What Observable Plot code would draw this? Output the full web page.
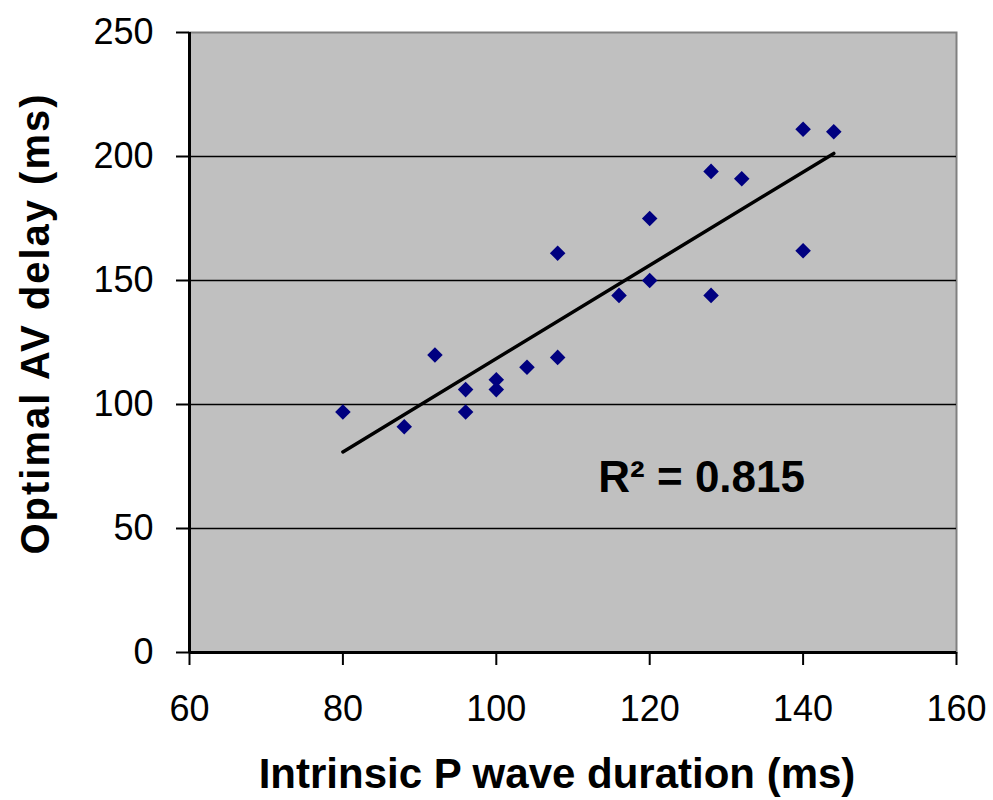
<!DOCTYPE html>
<html>
<head>
<meta charset="utf-8">
<script src="https://cdn.jsdelivr.net/npm/d3@7"></script>
<script src="https://cdn.jsdelivr.net/npm/@observablehq/plot@0.6"></script>
<style>
  html, body { margin: 0; padding: 0; background: #ffffff; }
  #chart { width: 993px; height: 800px; }
  .ytitle text { letter-spacing: 2px; }
</style>
</head>
<body>
<div id="chart"></div>
<script>
// P wave duration (ms) and optimal AV delay (ms)
const pWave = [80, 88, 92, 96, 96, 100, 100, 104, 108, 108, 116, 120, 120, 128, 128, 132, 140, 140, 144];
const avDelay = [97, 91, 120, 106, 97, 110, 106, 115, 161, 119, 144, 175, 150, 194, 144, 191, 211, 162, 210];
const xTicks = [60, 80, 100, 120, 140, 160];
const yTicks = [0, 50, 100, 150, 200, 250];
const gridValues = [50, 100, 150, 200];
const xTitle = "Intrinsic P wave duration (ms)";
const yTitle = "Optimal AV delay (ms)";
const r2Label = "R\u00B2 = 0.815";
const r2Pos = {x: 113.3, y: 70.5};

const data = pWave.map((x, i) => ({x, y: avDelay[i]}));

const font = "Arial, 'Liberation Sans', sans-serif";

const chart = Plot.plot({
  width: 993,
  height: 800,
  marginLeft: 189,
  marginRight: 37,
  marginTop: 32,
  marginBottom: 148,
  style: {fontFamily: font, fontSize: "36px", background: "#ffffff", color: "#000"},
  x: {domain: [60, 160]},
  y: {domain: [0, 250]},
  marks: [
    Plot.frame({fill: "#c0c0c0", stroke: "#808080", strokeWidth: 2}),
    Plot.ruleY(gridValues, {stroke: "#000", strokeWidth: 1.6}),
    Plot.axisX({ticks: xTicks, tickSize: 13, tickPadding: 30, fontSize: 36, stroke: "#000", strokeWidth: 2, label: null, tickFormat: d => String(d)}),
    Plot.axisY({ticks: yTicks, tickSize: 13, tickPadding: 23, fontSize: 36, stroke: "#000", strokeWidth: 2, label: null, tickFormat: d => String(d)}),
    Plot.ruleX([60], {stroke: "#000", strokeWidth: 3}),
    Plot.ruleY([0], {stroke: "#000", strokeWidth: 3}),
    Plot.linearRegressionY(data, {x: "x", y: "y", stroke: "#000", strokeWidth: 3.5, ci: 0}),
    Plot.dot(data, {x: "x", y: "y", symbol: "diamond2", r: 7, fill: "#000080", stroke: "none"}),
    Plot.text([r2Label], {x: () => r2Pos.x, y: () => r2Pos.y, textAnchor: "start", fontSize: 44, fontWeight: "bold", fill: "#000"}),
    Plot.text([xTitle], {frameAnchor: "bottom", textAnchor: "middle", lineAnchor: "middle", dx: -16, dy: 122, fontSize: 42, fontWeight: "bold", fill: "#000"}),
    Plot.text([yTitle], {frameAnchor: "left", textAnchor: "middle", lineAnchor: "middle", dx: -153, dy: -19, rotate: -90, fontSize: 40, fontWeight: "bold", fill: "#000", className: "ytitle"})
  ]
});
document.getElementById("chart").appendChild(chart);
</script>
</body>
</html>
